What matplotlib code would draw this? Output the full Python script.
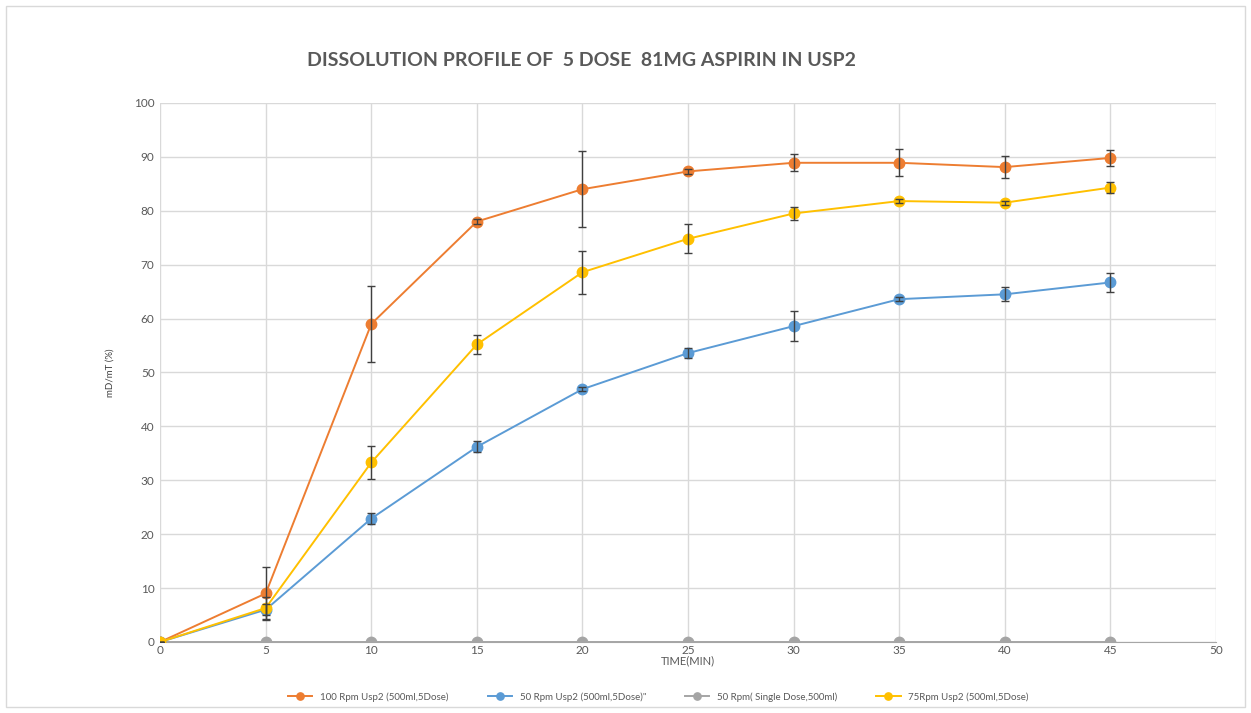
import numpy as np
import matplotlib.pyplot as plt
from matplotlib.patches import Rectangle

# Datos
time_min = [0, 5, 10, 15, 20, 25, 30, 35, 40, 45]

rpm100 = [0, 9.0, 59.0, 78.0, 84.0, 87.3, 88.9, 88.9, 88.1, 89.8]
rpm100_err = [0, 5.0, 7.0, 0.4, 7.0, 0.5, 1.6, 2.5, 2.0, 1.5]

rpm50 = [0, 6.0, 22.9, 36.2, 46.9, 53.6, 58.6, 63.6, 64.5, 66.7]
rpm50_err = [0, 1.0, 1.0, 1.0, 0.4, 1.0, 2.8, 0.4, 1.3, 1.8]

rpm50_single = [0, 0, 0, 0, 0, 0, 0, 0, 0, 0]

rpm75 = [0, 6.3, 33.3, 55.2, 68.6, 74.8, 79.5, 81.8, 81.5, 84.3]
rpm75_err = [0, 2.0, 3.0, 1.8, 4.0, 2.7, 1.2, 0.4, 0.4, 1.0]

labels = ['100 Rpm Usp2 (500ml,5Dose)', '50 Rpm Usp2 (500ml,5Dose)"',
          '50 Rpm( Single Dose,500ml)', '75Rpm Usp2 (500ml,5Dose)']
colors = ['#ED7D31', '#5B9BD5', '#A5A5A5', '#FFC000']

plt.rcParams['font.family'] = ['Lato', 'DejaVu Sans']

fig = plt.figure(figsize=(12.51, 7.13), dpi=100)
fig.patches.append(Rectangle((0.005, 0.008), 0.99, 0.984, transform=fig.transFigure,
                             fill=False, edgecolor='#D9D9D9', lw=1))
ax = fig.add_axes([0.128, 0.0996, 0.844, 0.756])

series = [(rpm100, rpm100_err), (rpm50, rpm50_err), (rpm50_single, None), (rpm75, rpm75_err)]
for (vals, err), lab, col in zip(series, labels, colors):
    ax.plot(time_min, vals, color=col, lw=1.4, marker='o', ms=7.5, label=lab, zorder=3)
    if err is not None:
        ax.errorbar(time_min, vals, yerr=err, fmt='none', ecolor='#404040',
                    elinewidth=1, capsize=3, capthick=1, zorder=4)

ax.set_xlim(0, 50)
ax.set_ylim(0, 100)
ax.set_xticks(np.arange(0, 51, 5))
ax.set_yticks(np.arange(0, 101, 10))
ax.grid(True, color='#D9D9D9', lw=1)
ax.set_axisbelow(True)
for s in ['top', 'right', 'left']:
    ax.spines[s].set_visible(False)
ax.spines['bottom'].set_color('#A6A6A6')
ax.tick_params(length=0, colors='#595959', labelsize=8.5, pad=4)
ax.tick_params(axis='x', pad=2)

ax.set_xlabel('TIME(MIN)', fontsize=8, color='#595959', labelpad=0)
ax.set_ylabel('mD/mT (%)', fontsize=7, color='#404040', labelpad=14)

fig.text(0.465, 0.915, 'DISSOLUTION PROFILE OF  5 DOSE  81MG ASPIRIN IN USP2',
         ha='center', va='center', fontsize=14, fontweight='bold', color='#595959')

ax.legend(loc='center', bbox_to_anchor=(0.5 - 0.028, -0.102), ncol=4, frameon=False,
          fontsize=7, labelcolor='#595959', columnspacing=4, handlelength=2.5, markerscale=0.7)

fig.savefig('out.png', dpi=100)
